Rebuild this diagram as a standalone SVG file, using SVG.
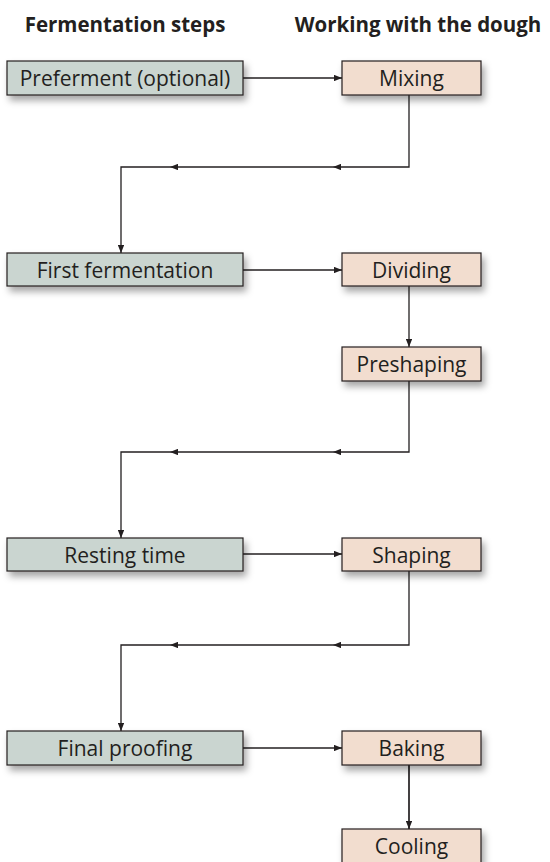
<svg xmlns="http://www.w3.org/2000/svg" width="550" height="862" viewBox="0 0 550 862">
  <defs>
    <filter id="shadow" x="-20%" y="-40%" width="150%" height="220%">
      <feDropShadow dx="3" dy="5" stdDeviation="3.5" flood-color="#000" flood-opacity="0.35"/>
    </filter>
    <marker id="arrow" viewBox="0 0 10 8" refX="10" refY="4" markerWidth="8" markerHeight="6.4" markerUnits="userSpaceOnUse" orient="auto">
      <path d="M0,0 L10,4 L0,8 Z" fill="#231f20"/>
    </marker>
  </defs>
  <style>
    .box { stroke: #231f20; stroke-width: 1.2; filter: url(#shadow); }
    .ferm { fill: #cad5d0; }
    .dough { fill: #f2ddcf; }
    .label { font-family: "Open Sans", "Liberation Sans", sans-serif; font-size: 21px; fill: #231f20; text-anchor: middle; }
    .head { font-family: "Open Sans", "Liberation Sans", sans-serif; font-size: 20.5px; font-weight: bold; fill: #231f20; text-anchor: middle; }
    .conn { fill: none; stroke: #231f20; stroke-width: 1.3; }
    .conn-h { fill: none; stroke: #231f20; stroke-width: 1.7; }
  </style>

  <!-- column headings -->
  <text class="head" x="125" y="32">Fermentation steps</text>
  <text class="head" x="418" y="32">Working with the dough</text>

  <!-- connectors -->
  <g id="connectors">
    <!-- fermentation step to dough step -->
    <path class="conn-h" d="M243,78 H342" marker-end="url(#arrow)"/>
    <path class="conn-h" d="M243,270 H342" marker-end="url(#arrow)"/>
    <path class="conn-h" d="M243,554 H342" marker-end="url(#arrow)"/>
    <path class="conn-h" d="M243,748 H342" marker-end="url(#arrow)"/>

    <!-- Mixing back to First fermentation -->
    <path class="conn" d="M409,95 V167 H333" marker-end="url(#arrow)"/>
    <path class="conn" d="M333,167 H170" marker-end="url(#arrow)"/>
    <path class="conn" d="M170,167 H121 V253" marker-end="url(#arrow)"/>

    <!-- Dividing to Preshaping -->
    <path class="conn" d="M409,286 V347" marker-end="url(#arrow)"/>

    <!-- Preshaping back to Resting time -->
    <path class="conn" d="M409,381 V452 H333" marker-end="url(#arrow)"/>
    <path class="conn" d="M333,452 H170" marker-end="url(#arrow)"/>
    <path class="conn" d="M170,452 H121 V538" marker-end="url(#arrow)"/>

    <!-- Shaping back to Final proofing -->
    <path class="conn" d="M409,571 V645 H333" marker-end="url(#arrow)"/>
    <path class="conn" d="M333,645 H170" marker-end="url(#arrow)"/>
    <path class="conn" d="M170,645 H121 V731" marker-end="url(#arrow)"/>

    <!-- Baking to Cooling -->
    <path class="conn-h" d="M409,765 V829" marker-end="url(#arrow)"/>
  </g>

  <!-- fermentation steps -->
  <g id="preferment">
    <rect class="box ferm" x="7" y="61" width="236" height="34"/>
    <text class="label" x="125" y="86">Preferment (optional)</text>
  </g>
  <g id="first-fermentation">
    <rect class="box ferm" x="7" y="253" width="236" height="33"/>
    <text class="label" x="125" y="277.5">First fermentation</text>
  </g>
  <g id="resting-time">
    <rect class="box ferm" x="7" y="538" width="236" height="33"/>
    <text class="label" x="125" y="562.5">Resting time</text>
  </g>
  <g id="final-proofing">
    <rect class="box ferm" x="7" y="731" width="236" height="34"/>
    <text class="label" x="125" y="756">Final proofing</text>
  </g>

  <!-- working with the dough -->
  <g id="mixing">
    <rect class="box dough" x="342" y="61" width="139" height="34"/>
    <text class="label" x="411.5" y="86">Mixing</text>
  </g>
  <g id="dividing">
    <rect class="box dough" x="342" y="253" width="139" height="33"/>
    <text class="label" x="411.5" y="277.5">Dividing</text>
  </g>
  <g id="preshaping">
    <rect class="box dough" x="342" y="347" width="139" height="34"/>
    <text class="label" x="411.5" y="372">Preshaping</text>
  </g>
  <g id="shaping">
    <rect class="box dough" x="342" y="538" width="139" height="33"/>
    <text class="label" x="411.5" y="562.5">Shaping</text>
  </g>
  <g id="baking">
    <rect class="box dough" x="342" y="731" width="139" height="34"/>
    <text class="label" x="411.5" y="756">Baking</text>
  </g>
  <g id="cooling">
    <rect class="box dough" x="342" y="829" width="139" height="34"/>
    <text class="label" x="411.5" y="854">Cooling</text>
  </g>
</svg>
